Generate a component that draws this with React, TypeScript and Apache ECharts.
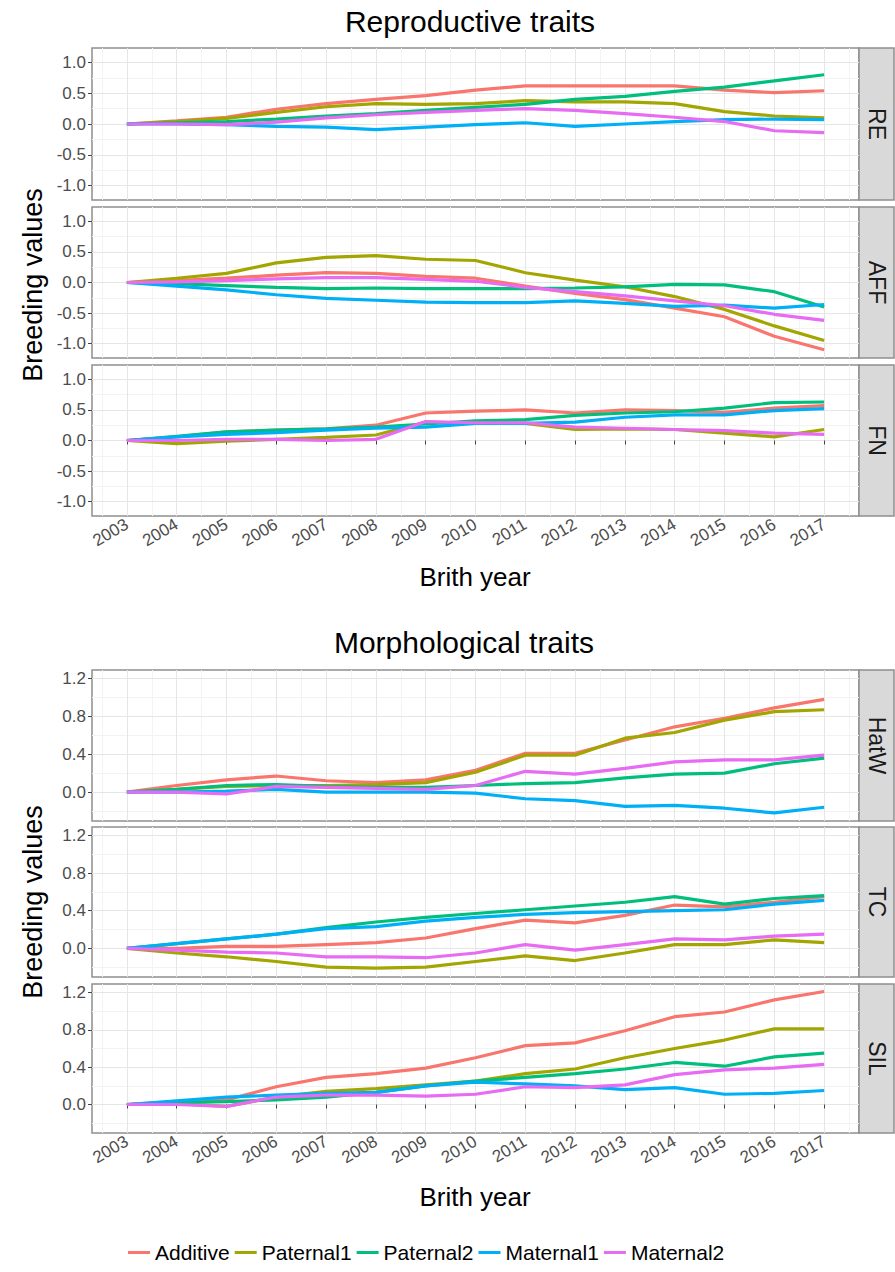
import React, { useEffect, useRef } from "react";
import * as echarts from "echarts";

const years = [2003, 2004, 2005, 2006, 2007, 2008, 2009, 2010, 2011, 2012, 2013, 2014, 2015, 2016, 2017];
const halfYears = [2002.5, 2003.5, 2004.5, 2005.5, 2006.5, 2007.5, 2008.5, 2009.5, 2010.5, 2011.5, 2012.5, 2013.5, 2014.5, 2015.5, 2016.5, 2017.5];
const seriesNames = ["Additive", "Paternal1", "Paternal2", "Maternal1", "Maternal2"];
const colors = ["#F8766D", "#A3A500", "#00BF7D", "#00B0F6", "#E76BF3"];

const topTicks = [-1, -0.5, 0, 0.5, 1];
const topMinor = [-0.75, -0.25, 0.25, 0.75];
const bottomTicks = [0, 0.4, 0.8, 1.2];
const bottomMinor = [-0.2, 0.2, 0.6, 1.0];

// Reproductive traits
const RE_Additive = [0, 0.05, 0.11, 0.24, 0.33, 0.4, 0.46, 0.55, 0.62, 0.62, 0.62, 0.62, 0.55, 0.51, 0.54];
const RE_Paternal1 = [0, 0.04, 0.09, 0.19, 0.28, 0.33, 0.32, 0.33, 0.38, 0.36, 0.36, 0.33, 0.2, 0.13, 0.1];
const RE_Paternal2 = [0, 0.02, 0.04, 0.08, 0.13, 0.17, 0.22, 0.27, 0.32, 0.4, 0.45, 0.53, 0.6, 0.7, 0.8];
const RE_Maternal1 = [0, 0, -0.01, -0.04, -0.05, -0.09, -0.05, -0.01, 0.02, -0.04, 0.0, 0.04, 0.07, 0.08, 0.07];
const RE_Maternal2 = [0, 0, -0.01, 0.03, 0.1, 0.15, 0.19, 0.22, 0.25, 0.22, 0.17, 0.11, 0.04, -0.11, -0.14];

const AFF_Additive = [0, 0.03, 0.07, 0.12, 0.16, 0.15, 0.1, 0.07, -0.06, -0.18, -0.28, -0.42, -0.56, -0.88, -1.1];
const AFF_Paternal1 = [0, 0.07, 0.15, 0.32, 0.41, 0.44, 0.38, 0.36, 0.16, 0.04, -0.07, -0.23, -0.44, -0.71, -0.95];
const AFF_Paternal2 = [0, -0.02, -0.05, -0.08, -0.1, -0.09, -0.1, -0.1, -0.1, -0.09, -0.07, -0.03, -0.04, -0.15, -0.4];
const AFF_Maternal1 = [0, -0.06, -0.12, -0.2, -0.26, -0.29, -0.32, -0.33, -0.33, -0.3, -0.34, -0.39, -0.37, -0.42, -0.36];
const AFF_Maternal2 = [0, 0.01, 0.03, 0.06, 0.08, 0.08, 0.05, 0.02, -0.08, -0.15, -0.22, -0.3, -0.38, -0.52, -0.62];

const FN_Additive = [0, 0.06, 0.14, 0.17, 0.19, 0.25, 0.45, 0.48, 0.5, 0.45, 0.5, 0.49, 0.46, 0.53, 0.57];
const FN_Paternal1 = [0, -0.05, -0.01, 0.02, 0.05, 0.09, 0.3, 0.28, 0.28, 0.18, 0.19, 0.18, 0.12, 0.06, 0.18];
const FN_Paternal2 = [0, 0.07, 0.14, 0.17, 0.19, 0.22, 0.27, 0.32, 0.34, 0.41, 0.45, 0.47, 0.53, 0.62, 0.63];
const FN_Maternal1 = [0, 0.06, 0.1, 0.13, 0.17, 0.2, 0.22, 0.28, 0.28, 0.3, 0.38, 0.42, 0.42, 0.49, 0.52];
const FN_Maternal2 = [0, 0.0, 0.02, 0.02, 0.0, 0.02, 0.31, 0.29, 0.29, 0.22, 0.2, 0.18, 0.16, 0.12, 0.1];

// Morphological traits
const HatW_Additive = [0, 0.07, 0.13, 0.17, 0.12, 0.1, 0.13, 0.23, 0.41, 0.41, 0.55, 0.69, 0.78, 0.89, 0.98];
const HatW_Paternal1 = [0, 0.03, 0.06, 0.07, 0.07, 0.08, 0.1, 0.21, 0.39, 0.39, 0.57, 0.63, 0.76, 0.85, 0.87];
const HatW_Paternal2 = [0, 0.03, 0.07, 0.08, 0.06, 0.05, 0.05, 0.07, 0.09, 0.1, 0.15, 0.19, 0.2, 0.3, 0.36];
const HatW_Maternal1 = [0, 0, 0.01, 0.03, 0, 0, 0, -0.01, -0.07, -0.09, -0.15, -0.14, -0.17, -0.22, -0.16];
const HatW_Maternal2 = [0, 0, -0.02, 0.06, 0.05, 0.04, 0.03, 0.07, 0.22, 0.19, 0.25, 0.32, 0.34, 0.34, 0.39];

const TC_Additive = [0, 0, 0.02, 0.02, 0.04, 0.06, 0.11, 0.21, 0.3, 0.27, 0.35, 0.46, 0.44, 0.49, 0.55];
const TC_Paternal1 = [0, -0.05, -0.09, -0.14, -0.2, -0.21, -0.2, -0.14, -0.08, -0.13, -0.05, 0.04, 0.04, 0.09, 0.06];
const TC_Paternal2 = [0, 0.05, 0.1, 0.15, 0.22, 0.28, 0.33, 0.37, 0.41, 0.45, 0.49, 0.55, 0.47, 0.53, 0.56];
const TC_Maternal1 = [0, 0.05, 0.1, 0.15, 0.21, 0.23, 0.29, 0.33, 0.36, 0.38, 0.39, 0.4, 0.41, 0.47, 0.51];
const TC_Maternal2 = [0, -0.02, -0.04, -0.05, -0.09, -0.09, -0.1, -0.05, 0.04, -0.02, 0.04, 0.1, 0.09, 0.13, 0.15];

const SIL_Additive = [0, 0.03, 0.05, 0.19, 0.29, 0.33, 0.39, 0.5, 0.63, 0.66, 0.79, 0.94, 0.99, 1.12, 1.21];
const SIL_Paternal1 = [0, 0.01, -0.02, 0.08, 0.14, 0.17, 0.21, 0.25, 0.33, 0.38, 0.5, 0.6, 0.69, 0.81, 0.81];
const SIL_Paternal2 = [0, 0.02, 0.03, 0.05, 0.08, 0.13, 0.2, 0.25, 0.29, 0.33, 0.38, 0.45, 0.41, 0.51, 0.55];
const SIL_Maternal1 = [0, 0.04, 0.08, 0.1, 0.12, 0.13, 0.2, 0.24, 0.22, 0.2, 0.16, 0.18, 0.11, 0.12, 0.15];
const SIL_Maternal2 = [0, 0, -0.02, 0.08, 0.1, 0.1, 0.09, 0.11, 0.19, 0.18, 0.21, 0.32, 0.37, 0.39, 0.43];

const FONT = "'Liberation Sans', Arial, sans-serif";

type Panel = {
  label: string;
  top: number;
  height: number;
  bottomPanel: boolean;
  group: "top" | "bottom";
  data: number[][];
};

const panels: Panel[] = [
  { label: "RE", top: 48, height: 152, bottomPanel: false, group: "top", data: [RE_Additive, RE_Paternal1, RE_Paternal2, RE_Maternal1, RE_Maternal2] },
  { label: "AFF", top: 207, height: 151, bottomPanel: false, group: "top", data: [AFF_Additive, AFF_Paternal1, AFF_Paternal2, AFF_Maternal1, AFF_Maternal2] },
  { label: "FN", top: 365, height: 151, bottomPanel: true, group: "top", data: [FN_Additive, FN_Paternal1, FN_Paternal2, FN_Maternal1, FN_Maternal2] },
  { label: "HatW", top: 670, height: 151, bottomPanel: false, group: "bottom", data: [HatW_Additive, HatW_Paternal1, HatW_Paternal2, HatW_Maternal1, HatW_Maternal2] },
  { label: "TC", top: 827, height: 150, bottomPanel: false, group: "bottom", data: [TC_Additive, TC_Paternal1, TC_Paternal2, TC_Maternal1, TC_Maternal2] },
  { label: "SIL", top: 984, height: 149, bottomPanel: true, group: "bottom", data: [SIL_Additive, SIL_Paternal1, SIL_Paternal2, SIL_Maternal1, SIL_Maternal2] },
];

const PLOT_LEFT = 92;
const PLOT_RIGHT_EDGE = 859;
const STRIP_W = 35;
const BORDER = "#8f8f8f";
const MAJOR_GRID = "#E6E6E6";
const MINOR_GRID = "#F3F3F3";

export default function App() {
  const ref = useRef<HTMLDivElement>(null);

  useEffect(() => {
    if (!ref.current) return;
    const chart = echarts.init(ref.current, null, { renderer: "svg" });

    const grids: any[] = [];
    const xAxes: any[] = [];
    const yAxes: any[] = [];
    const series: any[] = [];
    const graphics: any[] = [];

    panels.forEach((p, i) => {
      grids.push({
        left: PLOT_LEFT,
        right: 895 - PLOT_RIGHT_EDGE,
        top: p.top,
        height: p.height,
        show: true,
        borderColor: BORDER,
        borderWidth: 1.5,
        backgroundColor: "#FFFFFF",
      });
      const yr = p.group === "top" ? { min: -1.235, max: 1.235 } : { min: -0.305, max: 1.29 };
      const majorY = p.group === "top" ? topTicks : bottomTicks;
      const minorY = p.group === "top" ? topMinor : bottomMinor;

      xAxes.push({
        type: "value",
        gridIndex: i,
        min: 2002.3,
        max: 2017.7,
        axisLine: { show: false },
        axisTick: { show: p.bottomPanel, customValues: years, length: 4, lineStyle: { color: "#444" } },
        axisLabel: {
          show: p.bottomPanel,
          customValues: years,
          rotate: 30,
          fontSize: 17,
          color: "#4D4D4D",
          fontFamily: FONT,
          margin: 7,
          formatter: (v: number) => String(v),
        },
        splitLine: { show: true, lineStyle: { color: MAJOR_GRID, width: 1 } },
        z: 1,
      });
      xAxes.push({
        type: "value",
        gridIndex: i,
        min: 2002.3,
        max: 2017.7,
        axisLine: { show: false },
        axisTick: { show: false, customValues: halfYears },
        axisLabel: { show: false, customValues: halfYears },
        splitLine: { show: true, lineStyle: { color: MINOR_GRID, width: 1 } },
        z: 0,
      });
      yAxes.push({
        type: "value",
        gridIndex: i,
        ...yr,
        axisLine: { show: false },
        axisTick: { show: true, customValues: majorY, length: 4, lineStyle: { color: "#444" } },
        axisLabel: {
          customValues: majorY,
          fontSize: 17,
          color: "#4D4D4D",
          fontFamily: FONT,
          margin: 6,
          formatter: (v: number) => v.toFixed(1),
        },
        splitLine: { show: true, lineStyle: { color: MAJOR_GRID, width: 1 } },
        z: 1,
      });
      yAxes.push({
        type: "value",
        gridIndex: i,
        ...yr,
        axisLine: { show: false },
        axisTick: { show: false, customValues: minorY },
        axisLabel: { show: false, customValues: minorY },
        splitLine: { show: true, lineStyle: { color: MINOR_GRID, width: 1 } },
        z: 0,
      });

      p.data.forEach((vals, k) => {
        series.push({
          type: "line",
          name: seriesNames[k],
          xAxisIndex: 2 * i,
          yAxisIndex: 2 * i,
          data: years.map((y, j) => [y, vals[j]]),
          showSymbol: false,
          symbol: "none",
          lineStyle: { color: colors[k], width: 3.2 },
          itemStyle: { color: colors[k] },
          z: 3,
        });
      });

      graphics.push({
        type: "rect",
        shape: { x: PLOT_RIGHT_EDGE, y: p.top, width: STRIP_W, height: p.height },
        style: { fill: "#D9D9D9", stroke: BORDER, lineWidth: 1.5 },
      });
      graphics.push({
        type: "text",
        x: PLOT_RIGHT_EDGE + STRIP_W / 2,
        y: p.top + p.height / 2,
        rotation: -Math.PI / 2,
        style: {
          text: p.label,
          fontSize: 23,
          fontFamily: FONT,
          fill: "#1A1A1A",
          align: "center",
          verticalAlign: "middle",
        },
      });
    });

    const textEl = (text: string, x: number, y: number, size: number, rotation = 0) => ({
      type: "text",
      x,
      y,
      rotation,
      style: { text, fontSize: size, fontFamily: FONT, fill: "#000", align: "center", verticalAlign: "middle" },
    });

    graphics.push(textEl("Reproductive traits", 470, 21, 30));
    graphics.push(textEl("Morphological traits", 464, 642, 30));
    graphics.push(textEl("Breeding values", 33, 285, 27, Math.PI / 2));
    graphics.push(textEl("Breeding values", 33, 902, 27, Math.PI / 2));
    graphics.push(textEl("Brith year", 475, 577, 26));
    graphics.push(textEl("Brith year", 475, 1197, 26));

    chart.setOption({
      animation: false,
      backgroundColor: "#FFFFFF",
      grid: grids,
      xAxis: xAxes,
      yAxis: yAxes,
      series,
      legend: {
        data: seriesNames,
        left: 123,
        top: 1237,
        icon: "rect",
        itemWidth: 22,
        itemHeight: 3,
        itemGap: 5,
        textStyle: { fontSize: 21, fontFamily: FONT, color: "#000" },
      },
      graphic: graphics,
    });

    return () => chart.dispose();
  }, []);

  return (
    <div
      ref={ref}
      style={{ position: "absolute", left: 0, top: 0, width: 895, height: 1272, background: "#fff" }}
    />
  );
}
